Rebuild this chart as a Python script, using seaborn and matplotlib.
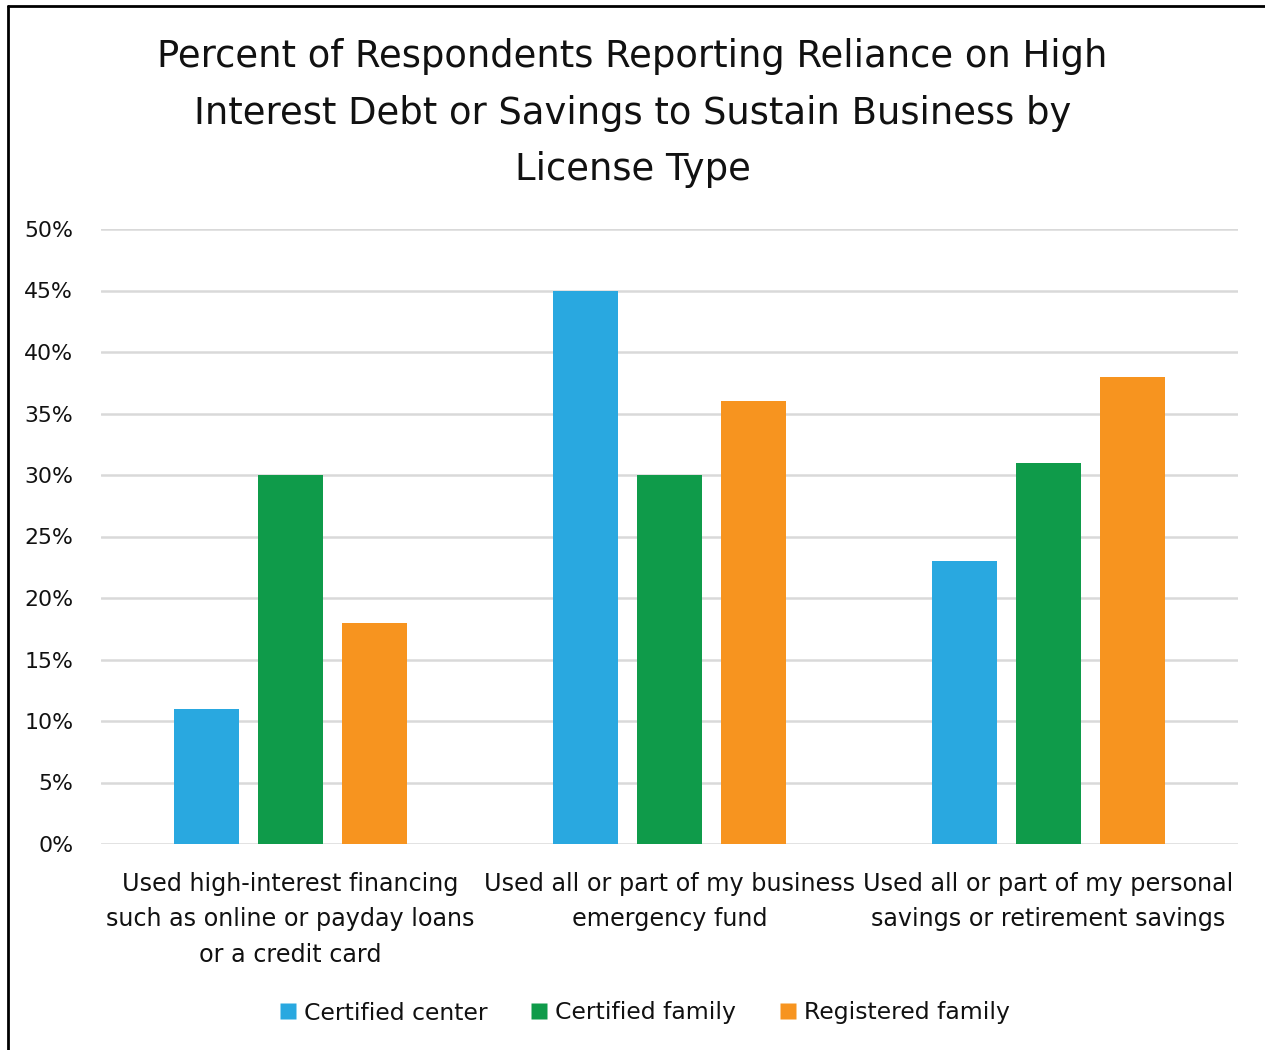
import matplotlib
matplotlib.use("Agg")
import matplotlib.pyplot as plt
import seaborn as sns
import pandas as pd
from matplotlib.lines import Line2D

categories = [
    "Used high-interest financing\nsuch as online or payday loans\nor a credit card",
    "Used all or part of my business\nemergency fund",
    "Used all or part of my personal\nsavings or retirement savings",
]
license_types = ["Certified center", "Certified family", "Registered family"]
certified_center = [11, 45, 23]
certified_family = [30, 30, 31]
registered_family = [18, 36, 38]
y_ticks = [0, 5, 10, 15, 20, 25, 30, 35, 40, 45, 50]
colors = ["#29A8E0", "#0F9B4A", "#F7941F"]

rows = []
for name, vals in zip(license_types, [certified_center, certified_family, registered_family]):
    for cat, v in zip(categories, vals):
        rows.append({"category": cat, "license": name, "value": v})
df = pd.DataFrame(rows)

sns.set_theme(style="white")
plt.rcParams["font.family"] = ["DejaVu Sans"]

fig = plt.figure(figsize=(12.65, 10.5), dpi=100)
ax = fig.add_axes([101 / 1265, 1 - 844 / 1050, 1137 / 1265, 615 / 1050])

sns.barplot(data=df, x="category", y="value", hue="license", palette=colors,
            width=0.665, gap=0.215, ax=ax, legend=False, zorder=3,
            edgecolor="none", saturation=1)

ax.set_ylim(0, 50)
ax.set_xlim(-0.5, 2.5)
ax.set_yticks(y_ticks)
ax.set_yticklabels([f"{t}%" for t in y_ticks], fontsize=15.8, color="#111111")
ax.tick_params(axis="y", pad=20, length=0)
ax.tick_params(axis="x", pad=20, length=0, labelsize=17.2, labelcolor="#111111")
for lbl in ax.get_xticklabels():
    lbl.set_linespacing(1.6)
ax.set_xlabel("")
ax.set_ylabel("")
ax.grid(axis="y", color="#D9D9D9", linewidth=1.8, zorder=0)
for s in ax.spines.values():
    s.set_visible(False)

fig.text(0.5, 1 - 113 / 1050,
         "Percent of Respondents Reporting Reliance on High\nInterest Debt or Savings to Sustain Business by\nLicense Type",
         ha="center", va="center", fontsize=26.6, linespacing=1.67, color="#111111")

handles = [Line2D([0], [0], marker="s", linestyle="none", markersize=11.5,
                  markerfacecolor=c, markeredgecolor="none") for c in colors]
fig.legend(handles, license_types, loc="center", bbox_to_anchor=(643 / 1265, 1 - 1013 / 1050),
           ncol=3, frameon=False, fontsize=16.9, handletextpad=0.18, columnspacing=1.71,
           handlelength=1.0, labelcolor="#111111")

# chart frame
fig.add_artist(Line2D([8 / 1265, 8 / 1265], [0, 1 - 6 / 1050], transform=fig.transFigure,
                      color="black", linewidth=2))
fig.add_artist(Line2D([8 / 1265, 1], [1 - 6 / 1050, 1 - 6 / 1050], transform=fig.transFigure,
                      color="black", linewidth=2))

fig.savefig("out.png", dpi=100, facecolor="white")
